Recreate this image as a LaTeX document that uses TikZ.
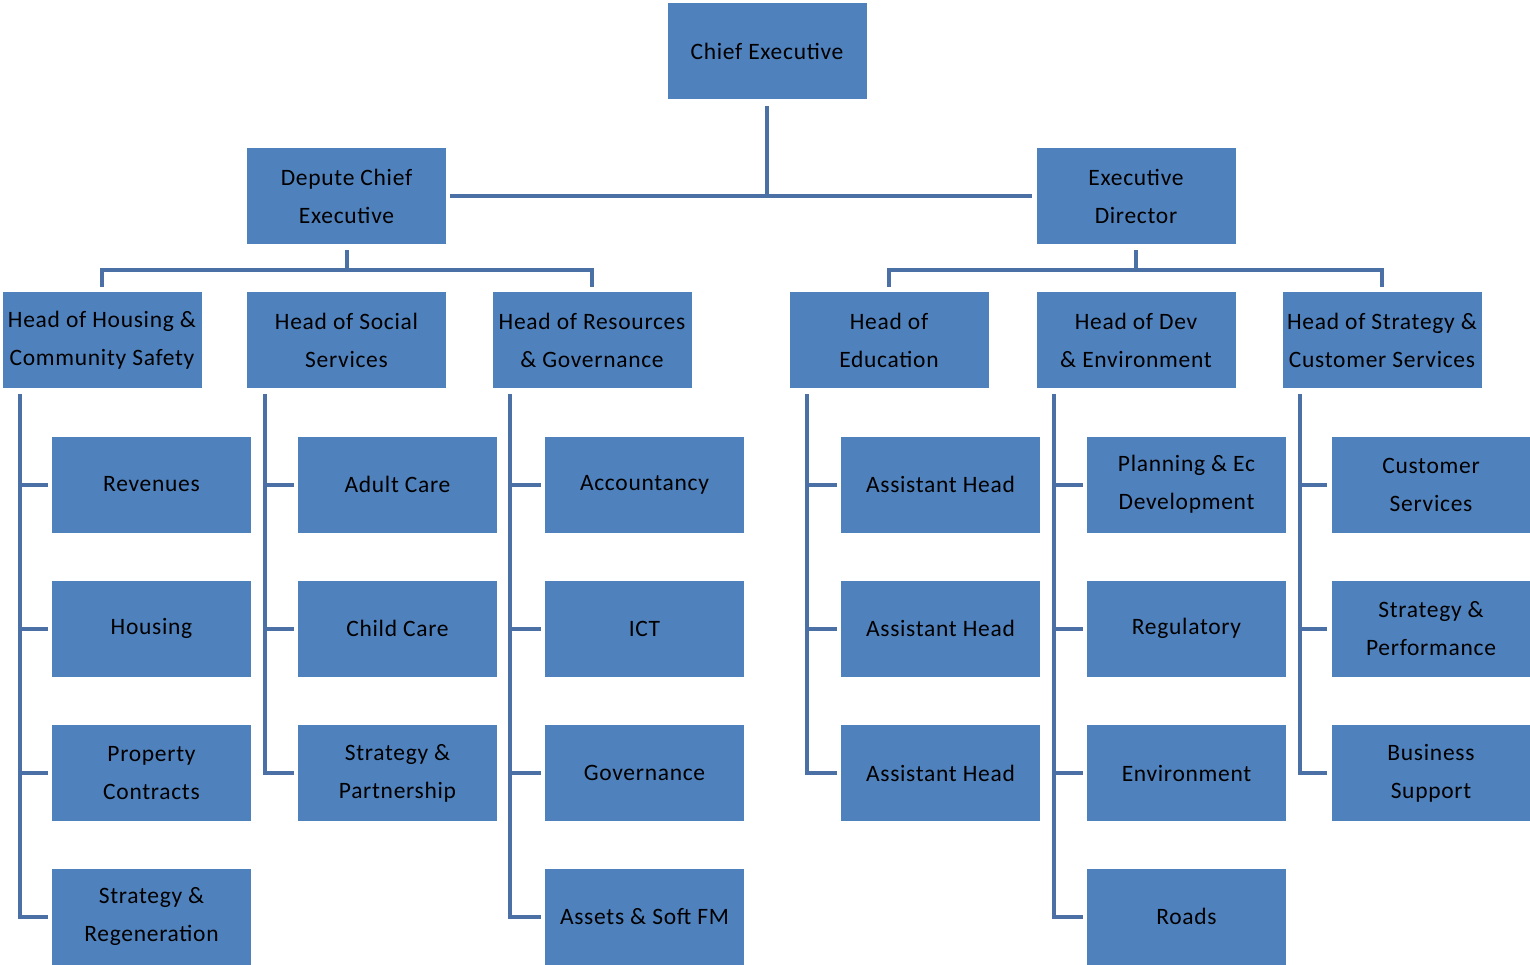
\documentclass[tikz,border=0pt]{standalone}
\usepackage{fontspec}
\setmainfont[LetterSpace=3]{Carlito}
\definecolor{boxblue}{RGB}{79,129,189}
\definecolor{linkblue}{RGB}{74,112,166}
\begin{document}
\begin{tikzpicture}[x=1pt,y=-1pt,
  box/.style={fill=boxblue,draw=none,minimum width=199pt,minimum height=96pt,inner sep=0pt,
    align=center,text=black,font=\fontsize{23.5}{38}\selectfont},
  conn/.style={draw=linkblue,line width=4pt}]
\useasboundingbox (0,0) rectangle (1530,964);
% level 1-2
\node[box] (ce) at (767,51) {Chief Executive};
\node[box] (dce) at (346.5,196) {Depute Chief\\Executive};
\node[box] (ed) at (1136,196) {Executive\\Director};
% level 3
\node[box] (hh) at (102,340) {Head of Housing \&\\Community Safety};
\node[box] (hs) at (346.5,340) {Head of Social\\Services};
\node[box] (hr) at (592,340) {Head of Resources\\\& Governance};
\node[box] (he) at (889,340) {Head of\\Education};
\node[box] (hd) at (1136,340) {Head of Dev\\\& Environment};
\node[box] (hc) at (1382,340) {Head of Strategy \&\\Customer Services};
% level 4 - housing
\node[box] (h1) at (151.5,484.5) {Revenues};
\node[box] (h2) at (151.5,628.5) {Housing};
\node[box] (h3) at (151.5,773) {Property\\Contracts};
\node[box] (h4) at (151.5,916.5) {Strategy \&\\Regeneration};
% social
\node[box] (s1) at (397.5,484.5) {Adult Care};
\node[box] (s2) at (397.5,628.5) {Child Care};
\node[box] (s3) at (397.5,773) {Strategy \&\\Partnership};
% resources
\node[box] (r1) at (644.5,484.5) {Accountancy};
\node[box] (r2) at (644.5,628.5) {ICT};
\node[box] (r3) at (644.5,773) {Governance};
\node[box] (r4) at (644.5,916.5) {Assets \& Soft FM};
% education
\node[box] (e1) at (940.5,484.5) {Assistant Head};
\node[box] (e2) at (940.5,628.5) {Assistant Head};
\node[box] (e3) at (940.5,773) {Assistant Head};
% dev
\node[box] (d1) at (1186.5,484.5) {Planning \& Ec\\Development};
\node[box] (d2) at (1186.5,628.5) {Regulatory};
\node[box] (d3) at (1186.5,773) {Environment};
\node[box] (d4) at (1186.5,916.5) {Roads};
% customer
\node[box] (c1) at (1431,484.5) {Customer\\Services};
\node[box] (c2) at (1431,628.5) {Strategy \&\\Performance};
\node[box] (c3) at (1431,773) {Business\\Support};
% top connectors
\draw[conn] ([yshift=-7pt]ce.south) -- (ce.south |- dce.east);
\draw[conn] ([xshift=4pt]dce.east) -- ([xshift=-4pt]ed.west);
\draw[conn] ([yshift=-6pt]dce.south) -- ([yshift=22pt]hs.north);
\draw[conn] ([yshift=5pt]hh.north) |- ([yshift=22pt]hr.north) -- ([yshift=5pt]hr.north);
\draw[conn] ([yshift=-6pt]ed.south) -- ([yshift=22pt]hd.north);
\draw[conn] ([yshift=5pt]he.north) |- ([yshift=22pt]hc.north) -- ([yshift=5pt]hc.north);
% child connectors
\foreach \p/\last/\others in {hh/h4/{h1,h2,h3},hs/s3/{s1,s2},hr/r4/{r1,r2,r3},he/e3/{e1,e2},hd/d4/{d1,d2,d3},hc/c3/{c1,c2}}{
  \draw[conn] ([xshift=18pt,yshift=-6pt]\p.south west) |- ([xshift=-4pt]\last.west);
  \foreach \c in \others {
    \draw[conn] ([xshift=18pt]\p.south west |- \c.west) -- ([xshift=-4pt]\c.west);
  }
}
\end{tikzpicture}
\end{document}
